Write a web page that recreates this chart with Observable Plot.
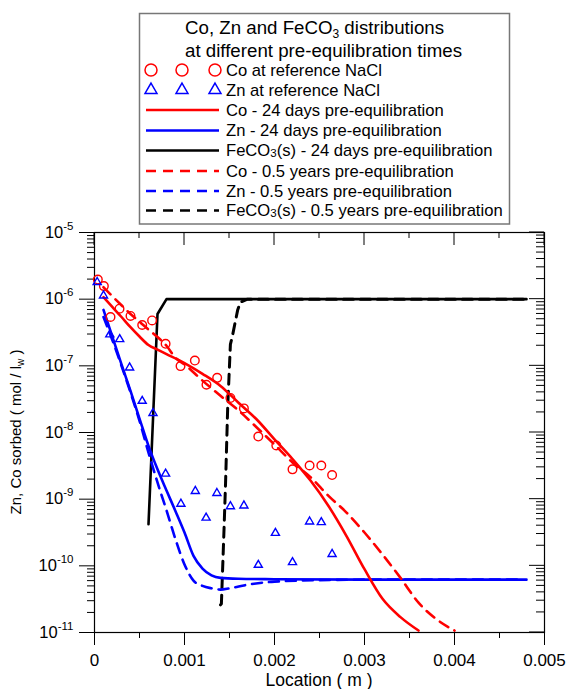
<!DOCTYPE html>
<html>
<head>
<meta charset="utf-8">
<script src="https://cdn.jsdelivr.net/npm/d3@7"></script>
<script src="https://cdn.jsdelivr.net/npm/@observablehq/plot@0.6"></script>
<style>
  body { margin: 0; background: white; }
  #wrap { position: relative; width: 570px; height: 689px; }
  #legend { position: absolute; left: 0; top: 0; }
</style>
</head>
<body>
<div id="wrap"></div>
<script>
// ---- Observed data (symbols) ----
const coObsX = [0.000037,0.000104,0.000178,0.000278,0.0004,0.00053,0.00064,0.00079,0.000956,0.001115,0.001244,0.001363,0.00151,0.00166,0.00182,0.00202,0.0022,0.00239,0.00252,0.00264];
const coObsY = [1.97e-6,1.57e-6,5.4e-7,7.2e-7,5.6e-7,4.1e-7,4.8e-7,2.14e-7,9.9e-8,1.2e-7,5.2e-8,6.6e-8,3.3e-8,2.3e-8,8.7e-9,6.4e-9,2.8e-9,3.2e-9,3.2e-9,2.3e-9];
const znObsX = [0.00003,0.0001,0.00017,0.00028,0.00039,0.00053,0.00065,0.00079,0.00096,0.00112,0.00124,0.00136,0.00151,0.00166,0.00182,0.00201,0.0022,0.00239,0.00252,0.00264];
const znObsY = [1.8e-6,1.13e-6,2.95e-7,2.5e-7,9.4e-8,2.97e-8,1.95e-8,2.4e-9,8.5e-10,1.32e-9,5.25e-10,1.23e-9,7.8e-10,8.0e-10,1.03e-10,3.1e-10,1.13e-10,4.6e-10,4.5e-10,1.5e-10];

// ---- Model curves ----
const co24X = [0.0001,0.0002,0.0003,0.0004,0.0005,0.0006,0.0007,0.0008,0.001,0.0012,0.0014,0.0016,0.0018,0.002,0.0022,0.0024,0.0026,0.0028,0.003,0.0032,0.0034,0.0036];
const co24Y = [1.07e-6,7.6e-7,5.4e-7,3.8e-7,2.75e-7,2.05e-7,1.75e-7,1.5e-7,1.1e-7,7.6e-8,5.0e-8,2.8e-8,1.58e-8,7.9e-9,4.0e-9,1.9e-9,7.9e-10,2.8e-10,8.9e-11,3.2e-11,1.7e-11,1.07e-11];
const co05X = [0.0001,0.0002,0.0003,0.0004,0.0005,0.0006,0.0007,0.0008,0.0009,0.001,0.0012,0.0014,0.0016,0.0018,0.002,0.0022,0.0024,0.0026,0.0028,0.003,0.0032,0.0034,0.0036,0.0038,0.004];
const co05Y = [1.51e-6,1.1e-6,8.1e-7,6.0e-7,4.6e-7,3.5e-7,2.7e-7,2.0e-7,1.32e-7,1.05e-7,6.0e-8,3.55e-8,2.14e-8,1.2e-8,6.6e-9,3.55e-9,2.14e-9,1.12e-9,6.3e-10,3.16e-10,1.48e-10,6.6e-11,2.8e-11,1.58e-11,1.07e-11];
const zn24X = [0.0001,0.0002,0.0003,0.0004,0.0005,0.0006,0.0007,0.0008,0.0009,0.001,0.0011,0.0012,0.0013,0.0014,0.0016,0.002,0.003,0.0048];
const zn24Y = [6.9e-7,2.7e-7,1.05e-7,4.2e-8,1.62e-8,6.3e-9,2.8e-9,1.35e-9,6.6e-10,3.16e-10,1.41e-10,9.1e-11,7.2e-11,6.6e-11,6.4e-11,6.3e-11,6.2e-11,6.2e-11];
const zn05X = [0.0001,0.0002,0.0003,0.0004,0.0005,0.0006,0.0007,0.0008,0.0009,0.001,0.0011,0.0012,0.0013,0.0014,0.0015,0.0017,0.002,0.0025,0.003,0.0047];
const zn05Y = [5.4e-7,2.4e-7,1.0e-7,4.0e-8,1.5e-8,5.0e-9,1.78e-9,6.8e-10,2.5e-10,1.05e-10,6.0e-11,5.0e-11,4.6e-11,4.4e-11,4.6e-11,5.2e-11,5.8e-11,6.1e-11,6.2e-11,6.2e-11];
const fe24X = [0.0006,0.0007,0.0008,0.0048];
const fe24Y = [4.2e-10,6.0e-7,1.0e-6,1.0e-6];
const fe05X = [0.0014,0.00141,0.00144,0.001456,0.00148,0.00151,0.00153,0.00159,0.00162,0.0017,0.0048];
const fe05Y = [2.6e-11,2.7e-11,3.8e-10,1.7e-9,2.4e-8,2.1e-7,2.7e-7,6.8e-7,9.0e-7,1.0e-6,1.0e-6];

// ---- Axis ticks ----
const yDecades = [1e-11,1e-10,1e-9,1e-8,1e-7,1e-6,1e-5];
const yMinorMult = [2,3,4,5,6,7,8,9];
const xMajor = [0,0.001,0.002,0.003,0.004,0.005];
const xMinor = [0.0005,0.0015,0.0025,0.0035,0.0045];

const yMinor = yDecades.slice(0, -1).flatMap(d => yMinorMult.map(m => d * m));
const zip = (xs, ys) => xs.map((x, i) => ({x, y: ys[i]}));

const RED = "#ff0000", BLUE = "#0000ff", BLACK = "#000000";
const DASH = "10,7";
const FONT = '"Liberation Sans", Arial, sans-serif';

const svg = Plot.plot({
  width: 570, height: 689,
  marginLeft: 94, marginRight: 26, marginTop: 232, marginBottom: 57,
  style: {fontFamily: FONT},
  x: {domain: [0, 0.005], label: null},
  y: {type: "log", domain: [1e-11, 1e-5], label: null},
  marks: [
    // left axis: major with labels, minor ticks
    Plot.axisY({ticks: yDecades, tickSize: 15, tickPadding: 6, fontSize: 16.5, label: null,
      tickFormat: d => String(Math.round(Math.log10(d)))}),
    Plot.axisY({ticks: yMinor, tickSize: 7, tickFormat: () => "", label: null}),
    // bottom axis
    Plot.axisX({ticks: xMajor, tickSize: 13, tickPadding: 8, fontSize: 17, label: null,
      tickFormat: d => d === 0 ? "0" : d.toFixed(3)}),
    Plot.axisX({ticks: xMinor, tickSize: 6, tickFormat: () => "", label: null}),
    Plot.frame({strokeWidth: 1.2}),
    // model curves
    Plot.line(zip(fe24X, fe24Y), {x: "x", y: "y", stroke: BLACK, strokeWidth: 2.6}),
    Plot.line(zip(fe05X, fe05Y), {x: "x", y: "y", stroke: BLACK, strokeWidth: 3, strokeDasharray: DASH}),
    Plot.line(zip(zn05X, zn05Y), {x: "x", y: "y", stroke: BLUE, strokeWidth: 2.6, strokeDasharray: DASH, curve: "monotone-x"}),
    Plot.line(zip(zn24X, zn24Y), {x: "x", y: "y", stroke: BLUE, strokeWidth: 2.6, curve: "monotone-x"}),
    Plot.line(zip(co05X, co05Y), {x: "x", y: "y", stroke: RED, strokeWidth: 2.6, strokeDasharray: DASH, curve: "monotone-x"}),
    Plot.line(zip(co24X, co24Y), {x: "x", y: "y", stroke: RED, strokeWidth: 2.6, curve: "monotone-x"}),
    // observations
    Plot.dot(zip(coObsX, coObsY), {x: "x", y: "y", r: 4.3, stroke: RED, strokeWidth: 1.4, fill: "none"}),
    Plot.dot(zip(znObsX, znObsY), {x: "x", y: "y", r: 3, symbol: "triangle", stroke: BLUE, strokeWidth: 1.4, fill: "none"})
  ]
});

document.getElementById("wrap").appendChild(svg);
const s = d3.select(svg);
const sx = svg.scale("x"), sy = svg.scale("y");
const L = 94, R = 544, T = 232;

// inward ticks on right and top (mirror axes), positioned with Plot's scales
const tg = s.append("g").attr("stroke", "currentColor").attr("stroke-width", 1);
yDecades.forEach(v => tg.append("path").attr("d", `M${R},${sy.apply(v)}h-15`));
yMinor.forEach(v => tg.append("path").attr("d", `M${R},${sy.apply(v)}h-8`));
xMajor.forEach(v => tg.append("path").attr("d", `M${sx.apply(v)},${T}v13`));
xMinor.forEach(v => tg.append("path").attr("d", `M${sx.apply(v)},${T}v6`));

// superscript exponents on y tick labels
s.selectAll('g[aria-label="y-axis tick label"] text').each(function() {
  const t = d3.select(this);
  const e = this.textContent.trim();
  if (e === "") return;
  t.text("");
  t.append("tspan").text("10");
  t.append("tspan").attr("dy", -8).attr("font-size", 11.5).text(e);
});

// x label
s.append("text").attr("x", 319).attr("y", 686).attr("text-anchor", "middle")
  .attr("font-size", 17.5).attr("fill", "black").text("Location ( m )");
// y label
const yl = s.append("text").attr("transform", "translate(21,432) rotate(-90)")
  .attr("text-anchor", "middle").attr("font-size", 15).attr("fill", "black");
yl.append("tspan").text("Zn, Co sorbed ( mol / l");
yl.append("tspan").attr("dy", 3).attr("font-size", 10).text("w");
yl.append("tspan").attr("dy", -3).text(" )");

// ---- Legend ----
const legendTitle1 = ["Co, Zn and FeCO", "3", " distributions"];
const legendTitle2 = "at different pre-equilibration times";
const legendItems = [
  {kind: "circle", color: RED, label: ["Co at reference NaCl"]},
  {kind: "triangle", color: BLUE, label: ["Zn at reference NaCl"]},
  {kind: "line", color: RED, dash: null, label: ["Co - 24 days pre-equilibration"]},
  {kind: "line", color: BLUE, dash: null, label: ["Zn - 24 days pre-equilibration"]},
  {kind: "line", color: BLACK, dash: null, label: ["FeCO", "3", "(s) - 24 days pre-equilibration"]},
  {kind: "line", color: RED, dash: DASH, label: ["Co - 0.5 years pre-equilibration"]},
  {kind: "line", color: BLUE, dash: DASH, label: ["Zn - 0.5 years pre-equilibration"]},
  {kind: "line", color: BLACK, dash: DASH, label: ["FeCO", "3", "(s) - 0.5 years pre-equilibration"]}
];
const rowY = [70, 90, 110, 130.5, 150.5, 171, 191, 210.5];
const symX = [151, 182, 215];

const lg = d3.select("#wrap").append("svg").attr("id", "legend")
  .attr("width", 570).attr("height", 228)
  .style("font-family", FONT);
lg.append("rect").attr("x", 139.5).attr("y", 13.5).attr("width", 370).attr("height", 210.5)
  .attr("fill", "white").attr("stroke", "#777").attr("stroke-width", 1.5);

const t1 = lg.append("text").attr("x", 185).attr("y", 34).attr("font-size", 18.7);
t1.append("tspan").text(legendTitle1[0]);
t1.append("tspan").attr("dy", 4).attr("font-size", 12).text(legendTitle1[1]);
t1.append("tspan").attr("dy", -4).text(legendTitle1[2]);
lg.append("text").attr("x", 185).attr("y", 57).attr("font-size", 18.7).text(legendTitle2);

legendItems.forEach((it, i) => {
  const y = rowY[i];
  if (it.kind === "circle") {
    symX.forEach(x => lg.append("circle").attr("cx", x).attr("cy", y).attr("r", 6)
      .attr("fill", "none").attr("stroke", it.color).attr("stroke-width", 1.5));
  } else if (it.kind === "triangle") {
    symX.forEach(x => lg.append("path").attr("transform", `translate(${x},${y})`)
      .attr("d", d3.symbol(d3.symbolTriangle, 62)()).attr("fill", "none")
      .attr("stroke", it.color).attr("stroke-width", 1.5));
  } else {
    lg.append("line").attr("x1", 146).attr("x2", 219).attr("y1", y).attr("y2", y)
      .attr("stroke", it.color).attr("stroke-width", 2.5)
      .attr("stroke-dasharray", it.dash);
  }
  const tx = lg.append("text").attr("x", 226).attr("y", y + 5.5).attr("font-size", 16.6);
  if (it.label.length === 1) tx.text(it.label[0]);
  else {
    tx.append("tspan").text(it.label[0]);
    tx.append("tspan").attr("dy", 1).attr("font-size", 11.5).text(it.label[1]);
    tx.append("tspan").attr("dy", -1).text(it.label[2]);
  }
});
</script>
</body>
</html>
